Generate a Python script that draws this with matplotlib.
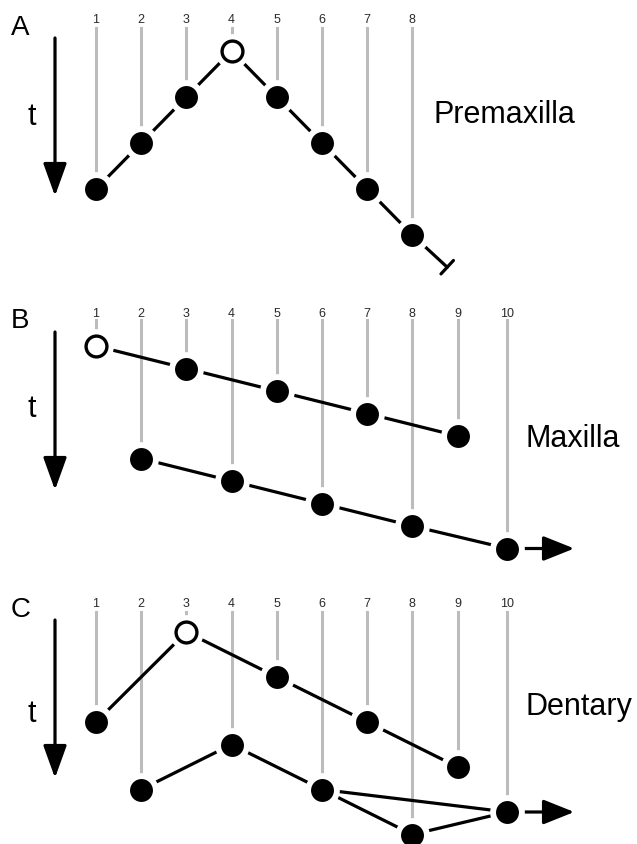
import matplotlib.pyplot as plt

plt.rcParams['font.family'] = ['Liberation Sans', 'DejaVu Sans']

# x position of each tooth (tooth 10 sits a bit further out)
tooth_x = {1: 1, 2: 2, 3: 3, 4: 4, 5: 5, 6: 6, 7: 7, 8: 8, 9: 9, 10: 10.1}

# Premaxilla: time of appearance per tooth (larger = later)
pmx_teeth = [1, 2, 3, 4, 5, 6, 7, 8]
pmx_time = [3, 2, 1, 0, 1, 2, 3, 4]
pmx_first = 4
pmx_end = (8.77, 4.7)

# Maxilla: two waves
mx_wave1 = [1, 3, 5, 7, 9]
mx_time1 = [0, 0.5, 1, 1.5, 2]
mx_wave2 = [2, 4, 6, 8, 10]
mx_time2 = [2.5, 3, 3.5, 4, 4.5]
mx_first = 1

# Dentary
dt_wave1 = [1, 3, 5, 7, 9]
dt_time1 = [2, 0, 1, 2, 3]
dt_wave2 = [2, 4, 6, 10]
dt_time2 = [3.5, 2.5, 3.5, 4]
dt_branch = [6, 8, 10]
dt_time3 = [3.5, 4.5, 4]
dt_first = 3

W, H = 637, 844
fig = plt.figure(figsize=(W / 100, H / 100), dpi=100)

ov = fig.add_axes([0, 0, 1, 1])
ov.set_xlim(0, W)
ov.set_ylim(H, 0)
ov.axis('off')

panels = [
    dict(letter='A', name='Premaxilla', top=0, bottom=280, t0=51, unit=46,
         num_y=23, line_top=28, letter_y=35, t_y=125, name_y=123,
         arrow=(38, 196), name_x=433,
         paths=[(pmx_teeth, pmx_time)], first=pmx_first, end_bar=True, out_arrow=None),
    dict(letter='B', name='Maxilla', top=290, bottom=570, t0=346, unit=45,
         num_y=317, line_top=320, letter_y=328, t_y=417, name_y=447,
         arrow=(332, 490), name_x=525,
         paths=[(mx_wave1, mx_time1), (mx_wave2, mx_time2)], first=mx_first,
         end_bar=False, out_arrow=10),
    dict(letter='C', name='Dentary', top=575, bottom=844, t0=632, unit=45,
         num_y=607, line_top=612, letter_y=617, t_y=722, name_y=715,
         arrow=(620, 778), name_x=525,
         paths=[(dt_wave1, dt_time1), (dt_wave2, dt_time2), (dt_branch, dt_time3)],
         first=dt_first, end_bar=False, out_arrow=10),
]

for p in panels:
    top, bottom, t0, unit = p['top'], p['bottom'], p['t0'], p['unit']
    ax = fig.add_axes([0, 1 - bottom / H, 1, (bottom - top) / H])
    ax.set_xlim(1 - 96 / 45.2, 1 + (W - 96) / 45.2)
    ax.set_ylim((bottom - t0) / unit, (top - t0) / unit)
    ax.axis('off')

    # time of each tooth
    times = {}
    for teeth, tt in p['paths']:
        for n, t in zip(teeth, tt):
            times[n] = t

    for n, t in times.items():
        x = tooth_x[n]
        ax.text(x, (p['num_y'] - t0) / unit, str(n), ha='center', va='baseline',
                fontsize=9, color='#2a2a2a')
        ax.plot([x, x], [(p['line_top'] - t0) / unit, t], color='#bcbcbc', lw=2.2, zorder=1)

    for teeth, tt in p['paths']:
        ax.plot([tooth_x[n] for n in teeth], tt, color='black', lw=2.3, zorder=2)

    for n, t in times.items():
        x = tooth_x[n]
        ax.plot(x, t, 'o', ms=25, mfc='white', mec='none', zorder=3)
        if n == p['first']:
            ax.plot(x, t, 'o', ms=15, mfc='white', mec='black', mew=2.4, zorder=4)
        else:
            ax.plot(x, t, 'o', ms=16.5, mfc='black', mec='none', zorder=4)

    if p['end_bar']:
        last = p['paths'][0][0][-1]
        ax.annotate('', xy=pmx_end, xytext=(tooth_x[last], times[last]),
                    arrowprops=dict(arrowstyle='-[,widthB=0.33,lengthB=0', mutation_scale=20,
                                    lw=2.3, color='black', shrinkA=12.5, shrinkB=0),
                    zorder=2)
    if p['out_arrow']:
        n = p['out_arrow']
        ax.annotate('', xy=(tooth_x[n] + 1.48, times[n]), xytext=(tooth_x[n], times[n]),
                    arrowprops=dict(arrowstyle='-|>,head_length=0.95,head_width=0.38',
                                    mutation_scale=20, lw=2.3, color='black',
                                    shrinkA=12.5, shrinkB=0),
                    zorder=2)

    # decorations
    ov.text(11, p['letter_y'], p['letter'], fontsize=20, va='baseline', ha='left')
    ov.text(32, p['t_y'], 't', fontsize=22, va='baseline', ha='center')
    ov.text(p['name_x'], p['name_y'], p['name'], fontsize=22, va='baseline', ha='left')
    a0, a1 = p['arrow']
    ov.annotate('', xy=(55, a1), xytext=(55, a0),
                arrowprops=dict(arrowstyle='-|>,head_length=1.0,head_width=0.36',
                                mutation_scale=20, lw=2.3, color='black',
                                shrinkA=0, shrinkB=0))

fig.savefig('out.png', dpi=100)
